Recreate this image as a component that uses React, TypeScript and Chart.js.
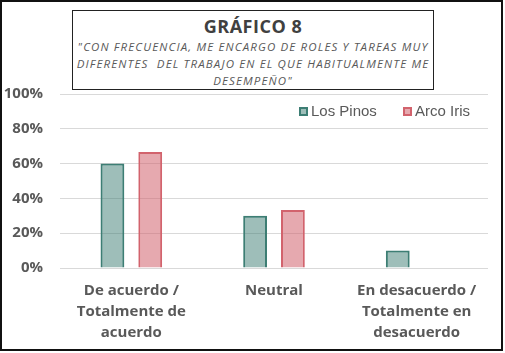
import React, { useEffect, useRef } from "react";
import { Chart, registerables } from "chart.js";

Chart.register(...registerables);

const categories: string[][] = [
  ["De acuerdo /", "Totalmente de", "acuerdo"],
  ["Neutral"],
  ["En desacuerdo /", "Totalmente en", "desacuerdo"],
];
const seriesNames = ["Los Pinos", "Arco Iris"];
const losPinos = [60, 30, 10];
const arcoIris = [66.7, 33.3, 0];
const yTicks = [0, 20, 40, 60, 80, 100];
const title = "GRÁFICO 8";
const subtitleLines = [
  "\"CON FRECUENCIA, ME ENCARGO DE ROLES Y TAREAS MUY",
  "DIFERENTES  DEL TRABAJO EN EL QUE HABITUALMENTE ME",
  "DESEMPEÑO\"",
];

const borderColors = ["#3d7e74", "#d2636d"];
const fillColors = ["rgba(61,126,116,0.5)", "rgba(210,99,109,0.55)"];

const legendPlugin = {
  id: "customLegend",
  afterDraw(chart: any) {
    const ctx = chart.ctx;
    const items = [
      { x: 299, label: seriesNames[0], i: 0 },
      { x: 403, label: seriesNames[1], i: 1 },
    ];
    ctx.save();
    ctx.font = "15px 'Liberation Sans', Arial, sans-serif";
    ctx.textBaseline = "middle";
    items.forEach((it) => {
      ctx.fillStyle = "#fff";
      ctx.fillRect(it.x, 107, 9, 9);
      ctx.fillStyle = fillColors[it.i];
      ctx.fillRect(it.x, 107, 9, 9);
      ctx.strokeStyle = borderColors[it.i];
      ctx.lineWidth = 2;
      ctx.strokeRect(it.x + 1, 108, 7, 7);
      ctx.fillStyle = "#595959";
      ctx.fillText(it.label, it.x + 12, 112);
    });
    ctx.restore();
  },
};

export default function App() {
  const ref = useRef<HTMLCanvasElement>(null);
  useEffect(() => {
    const chart = new Chart(ref.current!, {
      type: "bar",
      data: {
        labels: categories,
        datasets: [
          {
            label: seriesNames[0],
            data: losPinos,
            backgroundColor: fillColors[0],
            borderColor: borderColors[0],
            borderWidth: 2,
          },
          {
            label: seriesNames[1],
            data: arcoIris,
            backgroundColor: fillColors[1],
            borderColor: borderColors[1],
            borderWidth: 2,
          },
        ],
      },
      plugins: [legendPlugin],
      options: {
        animation: false,
        responsive: false,
        maintainAspectRatio: false,
        layout: { padding: { top: 94, right: 17, left: 0, bottom: 0 } },
        datasets: {
          bar: { barPercentage: 0.63, categoryPercentage: 0.53 },
        },
        plugins: {
          legend: { display: false },
          tooltip: { enabled: false },
          title: { display: false },
        },
        scales: {
          x: {
            grid: { display: false, drawTicks: false },
            border: { display: false },
            ticks: {
              color: "#595959",
              font: { family: "'Open Sans', sans-serif", size: 15, weight: "bold", lineHeight: 1.4 },
              padding: 12,
              maxRotation: 0,
              autoSkip: false,
            },
            afterFit: (s: any) => {
              s.height = 85;
            },
          },
          y: {
            min: 0,
            max: 100,
            afterBuildTicks: (s: any) => {
              s.ticks = yTicks.map((v) => ({ value: v }));
            },
            grid: { color: "#d9d9d9", lineWidth: 1, drawTicks: false },
            border: { display: false },
            ticks: {
              color: "#595959",
              font: { family: "'Open Sans', sans-serif", size: 15, weight: "bold" },
              padding: 17,
              callback: (v: any) => v + "%",
            },
            afterFit: (s: any) => {
              s.width = 60;
            },
          },
        },
      },
    });
    return () => chart.destroy();
  }, []);

  return (
    <div
      style={{
        position: "fixed",
        left: 0,
        top: 0,
        width: 505,
        height: 353,
        background: "#fff",
      }}
    >
      <canvas ref={ref} width={505} height={353} style={{ position: "absolute", left: 0, top: 0 }} />
      <div
        style={{
          position: "absolute",
          left: 0,
          top: 0,
          width: 503,
          height: 351,
          border: "2px solid #111",
          boxSizing: "border-box",
          pointerEvents: "none",
        }}
      />
      <div
        style={{
          position: "absolute",
          left: 72,
          top: 10,
          width: 362,
          height: 80,
          border: "1.5px solid #222",
          boxSizing: "border-box",
          background: "#fff",
          textAlign: "center",
          fontFamily: "'Open Sans', sans-serif",
        }}
      >
        <div style={{ fontSize: 18, fontWeight: 700, color: "#404040", marginTop: 3, lineHeight: "24px", letterSpacing: 0.5 }}>
          {title}
        </div>
        {subtitleLines.map((l, i) => (
          <div
            key={i}
            style={{
              fontSize: 11.5,
              fontStyle: "italic",
              color: "#595959",
              lineHeight: "17px",
              letterSpacing: 1.15,
              whiteSpace: "pre",
            }}
          >
            {l}
          </div>
        ))}
      </div>
    </div>
  );
}
